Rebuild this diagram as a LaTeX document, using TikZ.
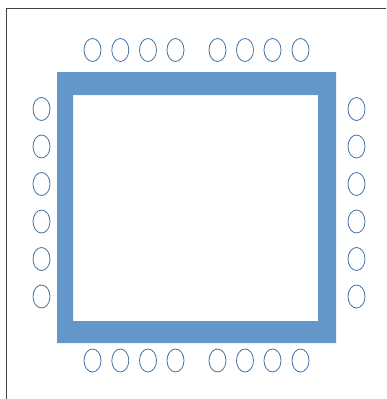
\documentclass[tikz,border=0pt]{standalone}
\usepackage{tikz}
\usetikzlibrary{shapes.geometric}

\definecolor{frameblue}{RGB}{99,151,201}
\definecolor{seatline}{RGB}{68,114,162}

\tikzset{
  seat/.style={ellipse, draw=seatline, line width=0.8pt, minimum width=17pt, minimum height=23pt, inner sep=0pt},
}

\begin{document}
\begin{tikzpicture}[x=1pt, y=-1pt]
        \useasboundingbox (0,0) rectangle (386,399);

        % Outer border (top and left only)
        \draw[line width=1pt, black!75] (386,8) -- (6,8) -- (6,399);

        % Table
        \fill[frameblue, even odd rule] (57,72) rectangle (336,343) (73,95) rectangle (318,321);

        % Seats along top and bottom
        \foreach \x [count=\i] in {92.5,120.3,148,175.5,217.5,245,272.5,300.5} {
            \node[seat] (top\i) at (\x,50) {};
            \node[seat] (bot\i) at (\x,360.5) {};
        }

        % Seats along left and right
        \foreach \y [count=\i] in {109,146.5,184,221.5,259,296.5} {
            \node[seat] (left\i) at (41.5,\y) {};
            \node[seat] (right\i) at (356.5,\y) {};
        }
    \end{tikzpicture}
\end{document}
